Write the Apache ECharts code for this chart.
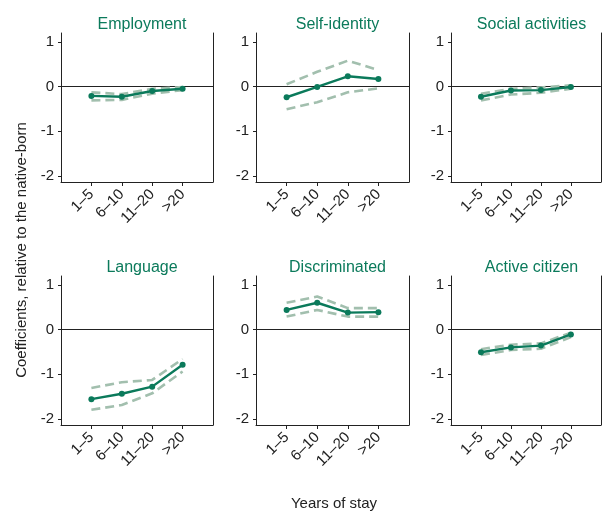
<!DOCTYPE html>
<html>
<head>
<meta charset="utf-8">
<script src="https://cdn.jsdelivr.net/npm/echarts@6/dist/echarts.min.js"></script>
<style>
html,body{margin:0;padding:0;background:#fff;}
#chart{width:603px;height:511px;}
</style>
</head>
<body>
<div id="chart"></div>
<script>
// ---- data ----
const categories = ['1–5', '6–10', '11–20', '>20'];
const panelTitles = ['Employment', 'Self-identity', 'Social activities', 'Language', 'Discriminated', 'Active citizen'];
const yTicks = [-2, -1, 0, 1];

const employmentCoef  = [-0.21, -0.23, -0.10, -0.05];
const employmentUpper = [-0.13, -0.17, -0.05, -0.01];
const employmentLower = [-0.31, -0.30, -0.16, -0.08];

const selfIdentityCoef  = [-0.24, -0.01, 0.23, 0.17];
const selfIdentityUpper = [0.05, 0.33, 0.58, 0.37];
const selfIdentityLower = [-0.51, -0.35, -0.13, -0.04];

const socialCoef  = [-0.23, -0.09, -0.08, -0.01];
const socialUpper = [-0.16, -0.05, -0.02, 0.03];
const socialLower = [-0.31, -0.18, -0.14, -0.05];

const languageCoef  = [-1.56, -1.44, -1.28, -0.79];
const languageUpper = [-1.31, -1.18, -1.13, -0.66];
const languageLower = [-1.80, -1.69, -1.43, -0.94];

const discriminatedCoef  = [0.44, 0.60, 0.38, 0.39];
const discriminatedUpper = [0.60, 0.74, 0.48, 0.48];
const discriminatedLower = [0.29, 0.44, 0.29, 0.29];

const activeCoef  = [-0.51, -0.40, -0.36, -0.11];
const activeUpper = [-0.44, -0.34, -0.31, -0.07];
const activeLower = [-0.57, -0.46, -0.43, -0.17];

const panelData = [
  [employmentCoef, employmentUpper, employmentLower],
  [selfIdentityCoef, selfIdentityUpper, selfIdentityLower],
  [socialCoef, socialUpper, socialLower],
  [languageCoef, languageUpper, languageLower],
  [discriminatedCoef, discriminatedUpper, discriminatedLower],
  [activeCoef, activeUpper, activeLower]
];

// ---- layout / style ----
const FONT = 'Liberation Sans, Arial, Helvetica, sans-serif';
const GREEN = '#0b7a5b';
const CI = '#a2bfae';
const AXIS = '#222';
const colLeft = [61, 256, 451];
const colWidth = [152, 153, 151];
const rowTop = [33, 276];
const gridHeight = 149;
const yMin = -2.14, yMax = 1.2;

const xCats = [''].concat(categories, ['']);

const grids = [], xAxes = [], yAxes = [], series = [], titles = [];
panelTitles.forEach((name, p) => {
  const r = Math.floor(p / 3), c = p % 3;
  grids.push({ left: colLeft[c], top: rowTop[r], width: colWidth[c], height: gridHeight });
  titles.push({
    text: name,
    left: colLeft[c] + colWidth[c] / 2,
    top: rowTop[r] - 21,
    textAlign: 'center',
    textStyle: { color: GREEN, fontSize: 16, fontWeight: 'normal', fontFamily: FONT }
  });
  xAxes.push({
    type: 'category', gridIndex: p, data: xCats, boundaryGap: false,
    axisLine: { onZero: false, lineStyle: { color: AXIS, width: 1 } },
    axisTick: { length: 4, lineStyle: { color: AXIS }, interval: (i, v) => v !== '' },
    axisLabel: { interval: 0, rotate: 45, margin: 10, color: AXIS, fontSize: 15, fontFamily: FONT },
    splitLine: { show: false }
  });
  yAxes.push({
    type: 'value', gridIndex: p, min: yMin, max: yMax, position: 'left',
    axisLine: { show: true, lineStyle: { color: AXIS, width: 1 } },
    axisTick: { show: true, length: 3, lineStyle: { color: AXIS }, customValues: yTicks },
    axisLabel: { color: AXIS, fontSize: 15, fontFamily: FONT, margin: 7, customValues: yTicks },
    splitLine: { show: false }
  });
  yAxes.push({
    type: 'value', gridIndex: p, min: yMin, max: yMax, position: 'right',
    axisLine: { show: true, lineStyle: { color: AXIS, width: 1 } },
    axisTick: { show: false }, axisLabel: { show: false }, splitLine: { show: false }
  });
  const [coef, upper, lower] = panelData[p];
  const pairs = arr => categories.map((cat, i) => [cat, arr[i]]);
  const yIdx = p * 2;
  [upper, lower].forEach(band => {
    series.push({
      type: 'line', xAxisIndex: p, yAxisIndex: yIdx, data: pairs(band),
      symbol: 'none', silent: true, z: 2,
      lineStyle: { color: CI, width: 2.6, type: [9, 5] }
    });
  });
  series.push({
    type: 'line', xAxisIndex: p, yAxisIndex: yIdx, data: pairs(coef),
    symbol: 'circle', symbolSize: 6, z: 4, silent: true,
    itemStyle: { color: GREEN },
    lineStyle: { color: GREEN, width: 2.4 },
    markLine: {
      silent: true, symbol: 'none', label: { show: false },
      lineStyle: { color: AXIS, width: 1.2, type: 'solid' },
      data: [{ yAxis: 0 }], z: 1
    }
  });
});

const chart = echarts.init(document.getElementById('chart'), null, { renderer: 'canvas' });
chart.setOption({
  animation: false,
  backgroundColor: '#fff',
  title: titles,
  grid: grids,
  xAxis: xAxes,
  yAxis: yAxes,
  series: series,
  graphic: [
    {
      type: 'text', x: 22, y: 250, rotation: Math.PI / 2,
      style: { text: 'Coefficients, relative to the native-born', fill: AXIS, fontSize: 15, fontFamily: FONT, align: 'center', verticalAlign: 'middle' }
    },
    {
      type: 'text', x: 334, y: 504,
      style: { text: 'Years of stay', fill: AXIS, fontSize: 15, fontFamily: FONT, align: 'center', verticalAlign: 'middle' }
    }
  ]
});
</script>
</body>
</html>
